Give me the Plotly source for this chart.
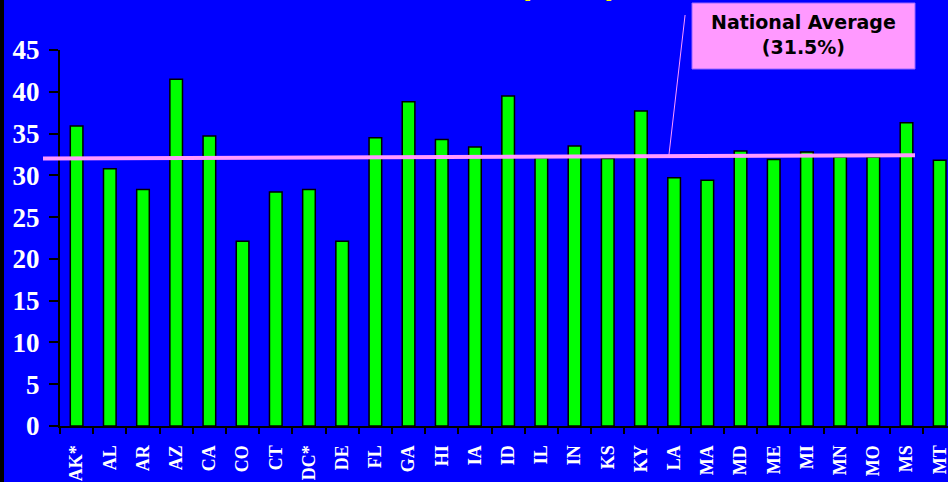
import plotly.graph_objects as go

states = ["AK*", "AL", "AR", "AZ", "CA", "CO", "CT", "DC*", "DE", "FL", "GA", "HI", "IA",
          "ID", "IL", "IN", "KS", "KY", "LA", "MA", "MD", "ME", "MI", "MN", "MO", "MS", "MT"]
values = [35.9, 30.8, 28.3, 41.5, 34.7, 22.1, 28.0, 28.3, 22.1, 34.5, 38.8, 34.3, 33.4,
          39.5, 32.1, 33.5, 32.0, 37.7, 29.7, 29.4, 32.9, 31.9, 32.8, 32.2, 32.2, 36.3, 31.8]
avg_label = "National Average<br>(31.5%)"
avg_line_y = [32.0, 32.4]
y_ticks = [0, 5, 10, 15, 20, 25, 30, 35, 40, 45]

BLUE = "#0000FF"
PINK = "#FF99FF"

fig = go.Figure()
fig.add_trace(go.Bar(
    x=states, y=values,
    marker=dict(color="#00FF00", line=dict(color="black", width=1.5)),
    showlegend=False, hoverinfo="x+y",
))

fig.update_layout(
    width=948, height=482,
    margin=dict(l=60, r=0, t=50, b=56, autoexpand=False),
    paper_bgcolor=BLUE, plot_bgcolor=BLUE,
    bargap=0.62,
    xaxis=dict(
        range=[-0.5, 26.25], showgrid=False, zeroline=False,
        showline=True, linecolor="black", linewidth=2,
        ticks="outside", tickson="boundaries", ticklen=6, tickcolor="black", tickwidth=1.5,
        tickangle=-90, automargin=False, ticklabelstandoff=10,
        tickfont=dict(family="Liberation Serif", size=18, color="white"),
    ),
    yaxis=dict(
        range=[0, 45], tickvals=y_ticks, showgrid=False, zeroline=False,
        showline=True, linecolor="black", linewidth=2,
        ticks="outside", ticklen=9, tickcolor="black", tickwidth=1.5,
        automargin=False, ticklabelstandoff=4,
        tickfont=dict(family="Liberation Serif", size=27, color="white"),
    ),
    font=dict(family="Liberation Serif", color="white"),
)

fig.update_xaxes(tickvals=states, ticktext=[f"<b>{s}</b>" for s in states])
fig.update_yaxes(ticktext=[f"<b>{v}</b>" for v in y_ticks])

shapes = [
    dict(type="rect", xref="paper", yref="paper", x0=-60/888, x1=-56/888,
         y0=-56/376, y1=426/376, fillcolor="black", line=dict(width=0), layer="above"),
    dict(type="line", xref="paper", yref="y", x0=(43-60)/888, x1=(915-60)/888,
         y0=avg_line_y[0], y1=avg_line_y[1], line=dict(color=PINK, width=4), layer="above"),
    dict(type="line", xref="x", yref="paper", x0=18.33, x1=17.84,
         y0=(426-15)/376, y1=(426-156)/376, line=dict(color=PINK, width=1), layer="above"),
    dict(type="rect", xref="paper", yref="paper", x0=(692-60)/888, x1=(915-60)/888,
         y0=(426-69)/376, y1=(426-3)/376, fillcolor=PINK,
         line=dict(color="#9966FF", width=1), layer="above"),
]
fig.update_layout(shapes=shapes)

fig.add_annotation(
    xref="paper", yref="paper", x=(803-60)/888, y=(426-35)/376,
    text=f"<b>{avg_label}</b>", showarrow=False,
    font=dict(family="DejaVu Sans", size=19, color="black"),
    xanchor="center", yanchor="middle",
)
fig.add_annotation(
    xref="paper", yref="paper", x=(568-60)/888, y=(426-3)/376,
    text="<b>(2003)</b>", showarrow=False,
    font=dict(family="Liberation Sans", size=34, color="#FFFF00"),
    xanchor="center", yanchor="bottom",
)

fig.write_html("out.html", config={"displayModeBar": False},
               post_script="document.body.style.margin='0';document.body.style.overflow='hidden';")
